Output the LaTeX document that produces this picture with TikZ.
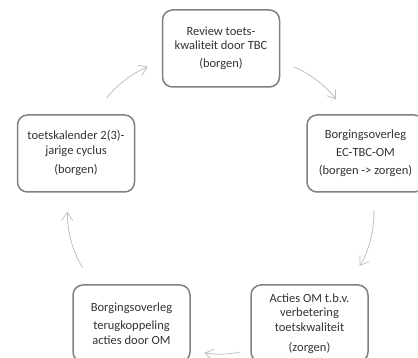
\documentclass[tikz,border=0pt]{standalone}
\usepackage{fontspec}
\setmainfont{Carlito}
\usetikzlibrary{arrows.meta}

\begin{document}
\begin{tikzpicture}[x=1pt,y=1pt,
  main/.style = {draw=black!50, line width=1.5pt, rounded corners=10pt,
    minimum width=117pt, minimum height=77pt, align=center, text=black!80,
    font=\fontsize{12.5}{14.5}\selectfont},
  arr/.style = {-{Straight Barb[length=8pt,width=11pt]}, draw=black!25, line width=0.8pt}]
\clip (0,0) rectangle (418,358);
\node[main] (1) at (221,309.5) {Review toets-\\kwaliteit door TBC\\[3.5pt](borgen)};
\node[main] (2) at (365.5,204.5) {Borgingsoverleg\\[3.5pt]EC-TBC-OM\\[3.5pt](borgen -> zorgen)};
\node[main] (3) at (309.5,34.5) {Acties OM t.b.v.\\verbetering\\toetskwaliteit\\[5.5pt](zorgen)};
\node[main] (4) at (131.5,34.5) {Borgingsoverleg\\[3.5pt]terugkoppeling\\acties door OM};
\node[main] (5) at (76,204.5) {toetskalender 2(3)-\\jarige cyclus\\[5pt](borgen)};
\draw[arr, shorten <=15pt, shorten >=18pt] (1.-12) to[bend left=16] (2.116);
\draw[arr, shorten <=18pt, shorten >=22pt] (2.-79) to[bend left=18] (3.46);
\draw[arr, shorten <=11pt, shorten >=14pt] (3.204) to[bend left=12] (4.336);
\draw[arr, shorten <=20pt, shorten >=19pt] (4.134) to[bend left=18] (5.259);
\draw[arr, shorten <=20pt, shorten >=15pt] (5.64) to[bend left=16] (1.192);
\end{tikzpicture}
\end{document}
